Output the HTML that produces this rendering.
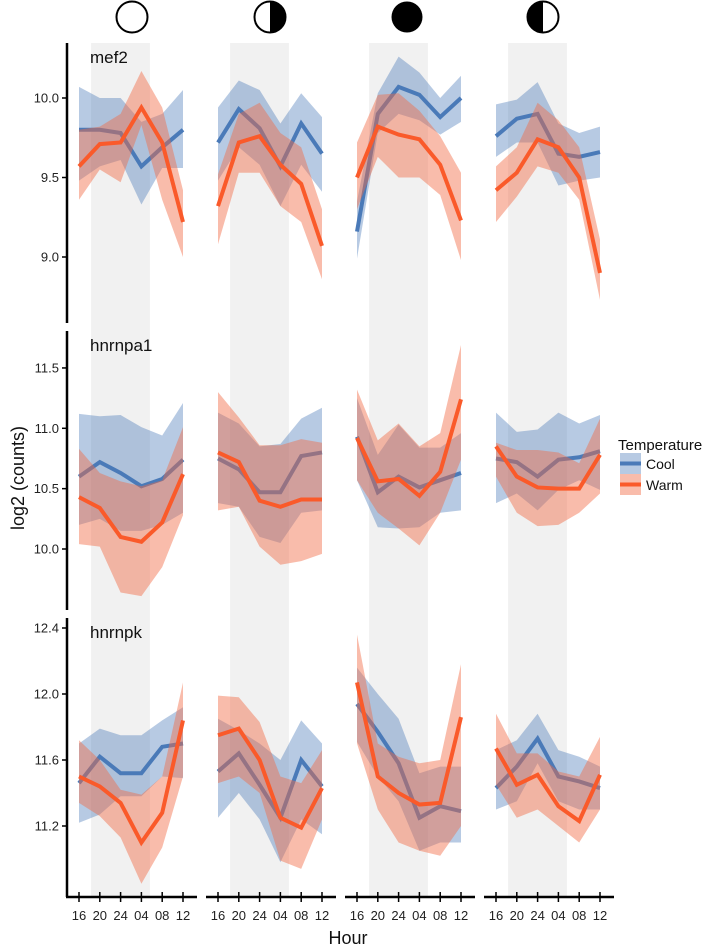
<!DOCTYPE html>
<html><head><meta charset="utf-8"><style>
body{margin:0;background:#fff;}
svg{display:block;font-family:"Liberation Sans",Arial,sans-serif;}
</style></head><body>
<svg id="chart" width="709" height="948" viewBox="0 0 709 948"></svg>
<script>
const hours = ["16","20","24","04","08","12"];
const genes = ["mef2","hnrnpa1","hnrnpk"];
const yTicks = [["10.0","9.5","9.0"],["11.5","11.0","10.5","10.0"],["12.4","12.0","11.6","11.2"]];
const yTickVals = [[10.0,9.5,9.0],[11.5,11.0,10.5,10.0],[12.4,12.0,11.6,11.2]];
// [gene][phase] arrays
const coolMean = [
 [[9.80,9.80,9.78,9.57,9.69,9.80],[9.72,9.93,9.81,9.57,9.84,9.65],[9.16,9.90,10.07,10.02,9.88,10.0],[9.76,9.87,9.90,9.65,9.63,9.66]],
 [[10.60,10.72,10.63,10.52,10.58,10.74],[10.75,10.66,10.47,10.47,10.77,10.80],[10.93,10.47,10.60,10.51,10.57,10.63],[10.75,10.72,10.60,10.74,10.76,10.81]],
 [[11.46,11.62,11.52,11.52,11.68,11.70],[11.53,11.64,11.45,11.25,11.60,11.44],[11.94,11.77,11.58,11.25,11.32,11.29],[11.43,11.56,11.73,11.50,11.47,11.43]]];
const coolHi = [
 [[10.07,10.0,10.0,9.85,9.9,10.05],[9.94,10.11,10.05,9.84,10.03,9.88],[9.35,10.03,10.26,10.16,10.0,10.14],[9.96,9.99,10.1,9.84,9.78,9.82]],
 [[11.12,11.10,11.11,11.01,10.94,11.21],[11.13,11.04,10.85,10.87,11.08,11.17],[11.25,10.78,11.03,10.84,10.84,10.96],[11.13,10.97,10.99,11.13,11.04,11.11]],
 [[11.70,11.79,11.75,11.75,11.84,11.92],[11.85,11.78,11.70,11.60,11.84,11.70],[12.16,12.0,11.85,11.52,11.56,11.56],[11.66,11.72,11.88,11.66,11.62,11.56]]];
const coolLo = [
 [[9.48,9.57,9.61,9.33,9.56,9.56],[9.48,9.69,9.58,9.32,9.58,9.41],[8.99,9.78,9.9,9.86,9.77,9.85],[9.63,9.72,9.72,9.45,9.48,9.50]],
 [[10.2,10.25,10.15,10.15,10.2,10.3],[10.38,10.35,10.10,10.05,10.30,10.32],[10.57,10.18,10.17,10.18,10.30,10.32],[10.38,10.46,10.32,10.49,10.57,10.49]],
 [[11.22,11.27,11.38,11.38,11.50,11.49],[11.25,11.40,11.24,10.98,11.24,11.15],[11.71,11.50,11.35,11.05,11.10,11.10],[11.30,11.35,11.58,11.35,11.30,11.30]]];
const warmMean = [
 [[9.57,9.71,9.72,9.94,9.72,9.22],[9.32,9.72,9.76,9.58,9.46,9.07],[9.50,9.82,9.77,9.74,9.58,9.23],[9.42,9.53,9.74,9.69,9.50,8.90]],
 [[10.43,10.34,10.10,10.06,10.22,10.62],[10.80,10.72,10.40,10.35,10.41,10.41],[10.92,10.56,10.58,10.44,10.64,11.24],[10.85,10.60,10.51,10.50,10.50,10.78]],
 [[11.50,11.44,11.34,11.10,11.28,11.84],[11.75,11.79,11.60,11.25,11.19,11.43],[12.07,11.50,11.40,11.33,11.34,11.86],[11.67,11.45,11.51,11.32,11.23,11.51]]];
const warmHi = [
 [[9.80,9.82,9.90,10.17,9.94,9.42],[9.52,9.90,9.97,9.78,9.69,9.30],[9.72,10.02,10.03,9.92,9.76,9.53],[9.57,9.69,9.97,9.86,9.69,9.11]],
 [[10.83,10.63,10.56,10.52,10.57,11.01],[11.30,11.09,10.86,10.86,10.91,10.88],[11.32,10.90,11.04,10.85,10.96,11.69],[10.88,10.82,10.82,10.80,10.71,11.08]],
 [[11.72,11.60,11.42,11.39,11.50,12.07],[11.99,11.98,11.83,11.50,11.46,11.66],[12.36,11.70,11.62,11.58,11.60,12.18],[11.88,11.64,11.64,11.53,11.50,11.74]]];
const warmLo = [
 [[9.36,9.55,9.47,9.83,9.36,9.0],[9.08,9.53,9.53,9.32,9.22,8.86],[9.30,9.63,9.50,9.50,9.39,8.98],[9.22,9.38,9.57,9.53,9.36,8.73]],
 [[10.04,10.02,9.64,9.61,9.85,10.28],[10.32,10.35,10.02,9.87,9.90,9.96],[10.57,10.30,10.17,10.03,10.30,10.74],[10.60,10.30,10.19,10.20,10.30,10.46]],
 [[11.34,11.26,11.13,10.85,11.07,11.50],[11.46,11.50,11.40,10.99,10.94,11.24],[11.70,11.30,11.10,11.05,11.02,11.20],[11.45,11.25,11.30,11.20,11.10,11.30]]];

const NS="http://www.w3.org/2000/svg";
const svg=document.getElementById('chart');
function mk(tag,attrs,parent){const e=document.createElementNS(NS,tag);for(const k in attrs)e.setAttribute(k,attrs[k]);(parent||svg).appendChild(e);return e;}
const colX0=[79,218,357,496], step=20.8;
function xPos(c,i){return colX0[c]+i*step;}
const rowTop=[43,331,618], rowBot=[323,610,897];
const yRef=[[98,10,159],[549,10,120.7],[694,12,165]];
function yPos(r,v){return yRef[r][0]-(v-yRef[r][1])*yRef[r][2];}

// grey night bands
for(let c=0;c<4;c++){
  const b=mk('rect',{x:xPos(c,0.58),y:43,width:step*2.83,height:854,fill:'#f1f1f1'});
  
  
}
// moon icons
const moonX=[132,270,407,543];
for(let c=0;c<4;c++){
  const g=mk('g',{});
  
  
  const cx=moonX[c],cy=17,r=15.5;
  if(c===2){mk('circle',{cx,cy,r,fill:'#000'},g);}
  else{
    mk('circle',{cx,cy,r,fill:'#fff',stroke:'#000','stroke-width':2},g);
    if(c===1)mk('path',{d:`M${cx} ${cy-r} A${r} ${r} 0 0 1 ${cx} ${cy+r} Z`,fill:'#000'},g);
    if(c===3)mk('path',{d:`M${cx} ${cy-r} A${r} ${r} 0 0 0 ${cx} ${cy+r} Z`,fill:'#000'},g);
  }
}
function bandPath(r,c,hi,lo){
  let d='';
  for(let i=0;i<6;i++)d+=(i?'L':'M')+xPos(c,i)+' '+yPos(r,hi[i]);
  for(let i=5;i>=0;i--)d+='L'+xPos(c,i)+' '+yPos(r,lo[i]);
  return d+'Z';
}
function linePath(r,c,m){let d='';for(let i=0;i<6;i++)d+=(i?'L':'M')+xPos(c,i)+' '+yPos(r,m[i]);return d;}
for(let r=0;r<3;r++){
  const cp=mk('clipPath',{id:'clip'+r});
  mk('rect',{x:60,y:rowTop[r]-2,width:560,height:rowBot[r]-rowTop[r]+4},cp);
  for(let c=0;c<4;c++){
    const g=mk('g',{'clip-path':'url(#clip'+r+')'});
    
    
    const cb=mk('path',{d:bandPath(r,c,coolHi[r][c],coolLo[r][c]),fill:'#4a7ab8','fill-opacity':0.4},g);
    
    
    const cl=mk('path',{d:linePath(r,c,coolMean[r][c]),fill:'none',stroke:'#4a7ab8','stroke-width':4,'stroke-linejoin':'miter'},g);
    
    
    const wb=mk('path',{d:bandPath(r,c,warmHi[r][c],warmLo[r][c]),fill:'#f26a45','fill-opacity':0.45},g);
    
    
    const wl=mk('path',{d:linePath(r,c,warmMean[r][c]),fill:'none',stroke:'#fa5a2a','stroke-width':4},g);
    
    
  }
  // y axis
  const ax=mk('line',{x1:67,y1:rowTop[r],x2:67,y2:rowBot[r],stroke:'#000','stroke-width':2.5});
  
  
  for(let k=0;k<yTicks[r].length;k++){
    const y=yPos(r,yTickVals[r][k]);
    mk('line',{x1:62,y1:y,x2:67,y2:y,stroke:'#000','stroke-width':1.5});
    const t=mk('text',{x:59,y:y+4.5,'text-anchor':'end','font-size':13,fill:'#222'});
    t.textContent=yTicks[r][k];
    
    
  }
  const gl=mk('text',{x:90,y:rowTop[r]+20,'font-size':17,fill:'#111'});
  gl.textContent=genes[r];
  
  
}
// x axes
for(let c=0;c<4;c++){
  const a=mk('line',{x1:colX0[c]-12-(c===0?1:0),y1:897,x2:colX0[c]+5*step+14,y2:897,stroke:'#000','stroke-width':2.5});
  
  
  for(let i=0;i<6;i++){
    const x=xPos(c,i);
    mk('line',{x1:x,y1:892,x2:x,y2:902,stroke:'#000','stroke-width':1.5});
    const t=mk('text',{x:x,y:920,'text-anchor':'middle','font-size':13,fill:'#222'});
    t.textContent=hours[i];
    
    
  }
}
const hx=mk('text',{x:348,y:944,'text-anchor':'middle','font-size':18,fill:'#111'});
hx.textContent='Hour';


const yt=mk('text',{x:0,y:0,'text-anchor':'middle','font-size':18,fill:'#111',transform:'translate(24,478) rotate(-90)'});
yt.textContent='log2 (counts)';


// legend
const lg=mk('g',{});


const lt=mk('text',{x:618,y:450,'font-size':15,fill:'#111'},lg);
lt.textContent='Temperature';
const ents=[['Cool','#4a7ab8','#4a7ab8',0.4],['Warm','#fa5a2a','#f26a45',0.45]];
for(let k=0;k<2;k++){
  const e=mk('g',{},lg);
  
  
  const y0=453+k*21;
  mk('rect',{x:620,y:y0,width:21,height:21,fill:ents[k][2],'fill-opacity':ents[k][3]},e);
  mk('line',{x1:620,y1:y0+10.5,x2:641,y2:y0+10.5,stroke:ents[k][1],'stroke-width':4},e);
  const t=mk('text',{x:646,y:y0+16,'font-size':14,fill:'#111'},e);
  t.textContent=ents[k][0];
}
</script>
</body></html>
